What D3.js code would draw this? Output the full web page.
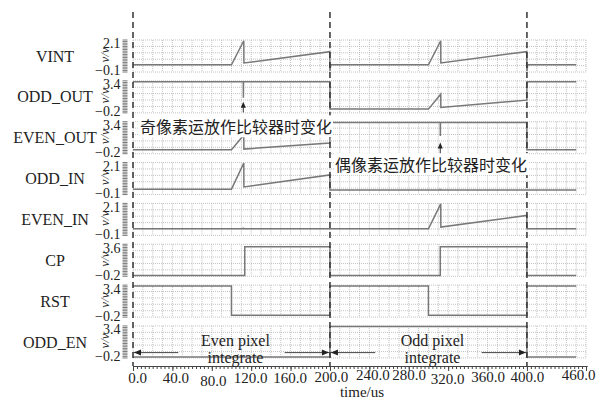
<!DOCTYPE html>
<html>
<head>
<meta charset="utf-8">
<script src="https://cdnjs.cloudflare.com/ajax/libs/d3/7.8.5/d3.min.js"></script>
<style>
  body { margin: 0; background: #fff; }
  svg { display: block; }
  .grid line { stroke: #b4b4b4; stroke-width: 0.8; stroke-dasharray: 1,1; }
  .comb line { stroke: #555; stroke-width: 0.8; }
  .trace { fill: none; stroke: #787878; stroke-width: 1.5; }
  .marker { stroke: #333; stroke-width: 1.5; stroke-dasharray: 6,4; }
  .axis path, .axis line { stroke: #444; }
</style>
</head>
<body>
<svg width="600" height="401"></svg>
<script>
// ======================================== DATA ======================================== //
var signalNames = ["VINT", "ODD_OUT", "EVEN_OUT", "ODD_IN", "EVEN_IN", "CP", "RST", "ODD_EN"];
var yTopValues = [2.1, 3.4, 3.4, 2.1, 2.1, 3.6, 3.4, 3.4];
var yBottomValues = [-0.1, -0.2, -0.2, -0.1, -0.1, -0.2, -0.2, -0.2];
var xTickValues = [0, 40, 80, 120, 160, 200, 240, 280, 320, 360, 400, 460];
var markerTimes = [0, 200, 400];     // dashed lines (us)

// waveforms, [time (us), value (V)]
var vint = [[0, 0.4], [100, 0.4], [112.5, 2.05], [112.6, 0.52], [199.8, 1.3], [200, -0.05], [200.8, 0.4],
            [300, 0.4], [312.5, 2.05], [312.6, 0.52], [399.8, 1.3], [400, -0.05], [400.8, 0.4], [450, 0.4]];
var oddOut = [[0, 3.3], [112, 3.3], [112.1, 1.5], [112.2, 3.3], [200, 3.3], [200.1, 0.22],
              [300, 0.22], [312.5, 1.9], [312.6, 0.4], [399.9, 1.23], [400, 3.3], [450, 3.3]];
var evenOut = [[0, 0.25], [100, 0.25], [112.5, 1.9], [112.6, 0.32], [199.9, 1.0], [200, 3.3],
               [312, 3.3], [312.1, 1.8], [312.2, 3.3], [399.9, 3.3], [400, 0.25], [450, 0.25]];
var oddIn = [[0, 0.27], [100, 0.27], [112.5, 2.07], [112.6, 0.42], [199.9, 1.25], [200, 0.22],
             [311.9, 0.22], [312, 0.3], [312.1, 0.22], [450, 0.22]];
var evenIn = [[0, 0.36], [112, 0.36], [112.1, 0.44], [112.2, 0.36], [300, 0.36], [312.5, 2.07],
              [312.6, 0.47], [399.9, 1.27], [400, 0.36], [450, 0.36]];
var cp = [[0, -0.1], [113.5, -0.1], [113.5, 3.3], [200, 3.3], [200, -0.1], [312, -0.1], [312, 3.3],
          [400, 3.3], [400, -0.1], [450, -0.1]];
var rst = [[0, 3.3], [100, 3.3], [100, 0], [200, 0], [200, 3.3], [300, 3.3], [300, 0], [400, 0],
           [400, 3.3], [450, 3.3]];
var oddEn = [[0, -0.1], [200, -0.1], [200, 3.35], [400, 3.35], [400, -0.1], [450, -0.1]];
var traces = [vint, oddOut, evenOut, oddIn, evenIn, cp, rst, oddEn];

// annotations
var noteTexts = ["奇像素运放作比较器时变化", "偶像素运放作比较器时变化"];
var noteTimes = [112, 312];          // comparator change (us)
var integrateLabels = [["Even pixel", "integrate"], ["Odd pixel", "integrate"]];
var integrateSpans = [[0, 200], [200, 400]];

// ======================================== LAYOUT ======================================== //
var serif = "'Liberation Serif'";
var cjk = "'Noto Sans CJK SC'";

var svg = d3.select("svg"),
    panelTop = 40,
    panelPitch = 40.85,
    panelHeight = 32,
    axisY = 366;

// tick label nudges, as set in the original figure
var tickLabelDx = [4, 3, 1, -1, -1, 1, 3, 0, -1, 0, 0, -8];
var tickLabelDy = [0, 0, 3, 0, 0, -1, -3, -3, 1, -1, -1, -3];

var x = d3.scaleLinear()
    .domain([0, 461])
    .range([133, 587]);

var y = signalNames.map(function(name, i) {
    var top = panelTop + i * panelPitch;
    return d3.scaleLinear()
        .domain([yBottomValues[i], yTopValues[i]])
        .range([top + panelHeight, top]);
});

function divisions(i, n) {
    return d3.range(n + 1).map(function(k) {
        return yBottomValues[i] + k * (yTopValues[i] - yBottomValues[i]) / n;
    });
}

function label(sel, size) {
    return sel.style("font-family", serif).style("font-size", size + "px").attr("fill", "#222");
}

// ======================================== PANELS ======================================== //
signalNames.forEach(function(name, i) {
    var yi = y[i],
        g = svg.append("g").attr("class", "panel");

    // grid
    var grid = g.append("g").attr("class", "grid");
    grid.selectAll(".v").data(d3.range(0, 461, 10)).join("line")
        .attr("class", "v")
        .attr("x1", x).attr("x2", x)
        .attr("y1", yi.range()[1]).attr("y2", yi.range()[0]);
    grid.selectAll(".h").data(divisions(i, 5)).join("line")
        .attr("class", "h")
        .attr("x1", x(0)).attr("x2", x(461))
        .attr("y1", yi).attr("y2", yi);

    // minor tick comb on the y axis
    g.append("g").attr("class", "comb")
      .selectAll("line").data(divisions(i, 20)).join("line")
        .attr("x1", 122.5).attr("x2", 127.5)
        .attr("y1", yi).attr("y2", yi);

    // y tick labels
    label(g.append("text"), 14)
        .attr("x", 120.5).attr("y", yi(yTopValues[i]) + 3.5)
        .attr("dy", "0.35em").attr("text-anchor", "end")
        .text(d3.format(".1f")(yTopValues[i]));
    label(g.append("text"), 14)
        .attr("x", 120.5).attr("y", yi(yBottomValues[i]) - 1.5)
        .attr("dy", "0.35em").attr("text-anchor", "end")
        .text(d3.format(".1f")(yBottomValues[i]));

    // unit
    var mid = (yi.range()[0] + yi.range()[1]) / 2;
    label(g.append("text"), 13)
        .attr("transform", "translate(104," + (mid - 1) + ") rotate(-90)")
        .attr("dy", "0.35em").attr("text-anchor", "middle")
        .style("font-style", "italic")
        .text("v/v");

    // signal name
    label(g.append("text"), 16)
        .attr("x", 55).attr("y", mid)
        .attr("dy", "0.35em").attr("text-anchor", "middle")
        .text(name);

    // waveform
    g.append("path")
        .datum(traces[i])
        .attr("class", "trace")
        .attr("d", d3.line()
            .x(function(d) { return x(d[0]); })
            .y(function(d) { return yi(d[1]); }));
});

// ======================================== AXIS ======================================== //
svg.append("g")
    .attr("class", "axis")
    .attr("transform", "translate(0," + axisY + ")")
    .call(d3.axisBottom(x).tickValues(d3.range(0, 461, 4)).tickSize(3).tickSizeOuter(0).tickFormat(""));

var xAxisG = svg.append("g")
    .attr("class", "axis")
    .attr("transform", "translate(0," + axisY + ")")
    .call(d3.axisBottom(x).tickValues(xTickValues).tickSize(5).tickPadding(1).tickSizeOuter(0)
        .tickFormat(d3.format(".1f")));

label(xAxisG.selectAll("text"), 15)
    .attr("y", function(d, i) { return 6 + tickLabelDy[i]; })
    .attr("x", function(d, i) { return tickLabelDx[i]; });

label(svg.append("text"), 15)
    .attr("x", 362).attr("y", 397)
    .attr("text-anchor", "middle")
    .text("time/us");

// ======================================== MARKERS ======================================== //
svg.selectAll(".marker").data(markerTimes).join("line")
    .attr("class", "marker")
    .attr("x1", x).attr("x2", x)
    .attr("y1", 12).attr("y2", axisY);

// comparator notes with white background
noteTexts.forEach(function(txt, k) {
    var px = k === 0 ? x(0) + 7 : x(200) + 5,
        py = k === 0 ? y[2].range()[1] + 6 : y[3].range()[1] + 3;
    var bg = svg.append("rect").attr("fill", "#fff");
    var t = svg.append("text")
        .style("font-family", cjk).style("font-size", "16px")
        .attr("fill", "#222")
        .attr("x", px).attr("y", py)
        .attr("dy", "0.35em")
        .text(txt);
    var bb = t.node().getBBox();
    bg.attr("x", bb.x - 1).attr("y", bb.y + 1).attr("width", bb.width + 2).attr("height", bb.height - 2);

    // upward arrow under the change
    var yi = y[k + 1],
        ax = x(noteTimes[k]),
        tip = yi(1.05);
    svg.append("line")
        .attr("x1", ax).attr("x2", ax)
        .attr("y1", yi(-0.15)).attr("y2", tip + 4)
        .attr("stroke", "#333").attr("stroke-width", 1);
    svg.append("path")
        .attr("d", "M" + ax + "," + tip + "l-2.5,6h5z")
        .attr("fill", "#222");
});

// integration spans on ODD_EN
var yEn = y[7];
integrateSpans.forEach(function(span, k) {
    var ly = yEn(0.4),
        a = x(span[0]), b = x(span[1]);
    svg.append("line").attr("x1", a).attr("x2", x(span[0] + 46)).attr("y1", ly).attr("y2", ly)
        .attr("stroke", "#444").attr("stroke-width", 1);
    svg.append("path").attr("d", "M" + (a + 1) + "," + ly + "l7,-3v6z").attr("fill", "#222");
    svg.append("line").attr("x1", x(span[1] - 46)).attr("x2", b).attr("y1", ly).attr("y2", ly)
        .attr("stroke", "#444").attr("stroke-width", 1);
    svg.append("path").attr("d", "M" + (b - 1) + "," + ly + "l-7,-3v6z").attr("fill", "#222");

    var cx = x((span[0] + span[1]) / 2) + 4;
    label(svg.append("text"), 16)
        .attr("x", cx).attr("y", yEn.range()[1] + 14)
        .attr("dy", "0.35em").attr("text-anchor", "middle")
        .text(integrateLabels[k][0]);
    label(svg.append("text"), 16)
        .attr("x", cx).attr("y", yEn.range()[1] + 31)
        .attr("dy", "0.35em").attr("text-anchor", "middle")
        .text(integrateLabels[k][1]);
});
</script>
</body>
</html>
